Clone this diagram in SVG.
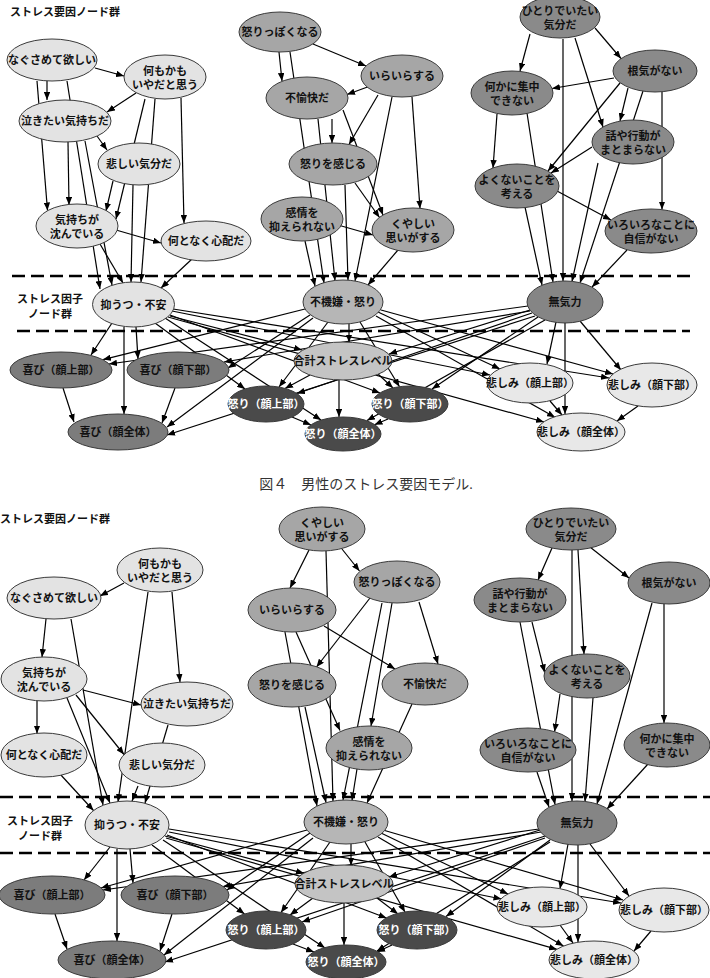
<svg xmlns="http://www.w3.org/2000/svg" width="710" height="978" viewBox="0 0 710 978">
<defs>
<marker id="ar" viewBox="0 0 10 8" refX="10" refY="4" markerWidth="8" markerHeight="6.4" markerUnits="userSpaceOnUse" orient="auto"><path d="M0,0L10,4L0,8z" fill="#000"/></marker>
<style>
.e{stroke:#3a3a3a;stroke-width:1}
.c1{fill:#e3e3e3}
.c2{fill:#a6a6a6}
.c3{fill:#8a8a8a}
.cf2{fill:#b6b6b6}
.cf3{fill:#858585}
.cj{fill:#7c7c7c}
.ct{fill:#c4c4c4}
.ca{fill:#4a4a4a}
.cs{fill:#e8e8e8}
text{font-family:"Liberation Sans","Noto Sans CJK JP",sans-serif;font-size:11px;font-weight:bold;text-anchor:middle;fill:#111}
text.w{fill:#fff}
text.lbl{text-anchor:start}
text.cap{font-family:"Liberation Serif","Noto Sans CJK JP",serif;font-weight:normal;font-size:14px;fill:#333}
#connectors line{stroke:#000;stroke-width:1.2;marker-end:url(#ar)}
.dash{stroke:#000;stroke-width:2.4;stroke-dasharray:13 6}
</style>
</defs>
<rect width="710" height="978" fill="#fff"/>

<g id="labels">
<text class="lbl" x="10" y="16">ストレス要因ノード群</text>
<text x="50" y="303">ストレス因子</text>
<text x="50" y="318">ノード群</text>
<text class="cap" x="366" y="489">図４　男性のストレス要因モデル.</text>
<text class="lbl" x="0" y="523">ストレス要因ノード群</text>
<text x="40" y="825">ストレス因子</text>
<text x="40" y="840">ノード群</text>
</g>

<g id="separators">
<line class="dash" x1="12" y1="276" x2="693" y2="276"/>
<line class="dash" x1="17" y1="331" x2="690" y2="331"/>
<line class="dash" x1="0" y1="797" x2="710" y2="797"/>
<line class="dash" x1="0" y1="853" x2="710" y2="853"/>
</g>

<g id="connectors">
<!-- top: left group -->
<line x1="95" y1="68" x2="124" y2="76"/>
<line x1="47" y1="81" x2="47" y2="100"/>
<line x1="37" y1="81" x2="47.5" y2="210.5"/>
<line x1="67" y1="81" x2="100" y2="289"/>
<line x1="136" y1="93" x2="107" y2="112"/>
<line x1="181" y1="98" x2="184" y2="223"/>
<line x1="145" y1="99" x2="116" y2="219"/>
<line x1="155" y1="99" x2="141" y2="282"/>
<line x1="97" y1="136" x2="107" y2="150"/>
<line x1="68" y1="142" x2="69" y2="205"/>
<line x1="85" y1="141" x2="112" y2="285"/>
<line x1="113" y1="181" x2="106" y2="211"/>
<line x1="133" y1="185" x2="131" y2="282"/>
<line x1="116" y1="230" x2="161" y2="243"/>
<line x1="100" y1="244" x2="123" y2="283"/>
<line x1="192" y1="259" x2="161" y2="288"/>
<!-- top: middle group -->
<line x1="313" y1="44" x2="366" y2="66"/>
<line x1="279" y1="52" x2="282" y2="81"/>
<line x1="290" y1="52" x2="324" y2="283"/>
<line x1="373" y1="85" x2="347" y2="94.5"/>
<line x1="378" y1="95" x2="349" y2="144.5"/>
<line x1="412" y1="97" x2="420" y2="208.5"/>
<line x1="392" y1="97" x2="355" y2="281"/>
<line x1="332" y1="119" x2="332" y2="143"/>
<line x1="343" y1="110" x2="383" y2="215"/>
<line x1="318" y1="119" x2="335" y2="280.5"/>
<line x1="355" y1="183" x2="379.5" y2="217.5"/>
<line x1="345" y1="185" x2="348" y2="280"/>
<line x1="338" y1="225" x2="373" y2="235"/>
<line x1="305" y1="241" x2="315" y2="286"/>
<line x1="398" y1="250" x2="368" y2="285"/>
<!-- top: right group -->
<line x1="530" y1="34" x2="520" y2="71"/>
<line x1="595" y1="28" x2="621" y2="58.5"/>
<line x1="575" y1="38" x2="603" y2="127"/>
<line x1="563" y1="39" x2="563" y2="281"/>
<line x1="614" y1="78" x2="552" y2="88.5"/>
<line x1="620" y1="83" x2="548" y2="171"/>
<line x1="628" y1="88" x2="620" y2="121"/>
<line x1="662" y1="92" x2="662" y2="209.5"/>
<line x1="643" y1="91" x2="580" y2="283"/>
<line x1="592" y1="147" x2="551" y2="173"/>
<line x1="598" y1="163" x2="572" y2="281.5"/>
<line x1="497" y1="114" x2="493" y2="168"/>
<line x1="527" y1="113" x2="553" y2="282"/>
<line x1="557" y1="191" x2="611" y2="220"/>
<line x1="525" y1="207" x2="542" y2="285"/>
<line x1="627" y1="250" x2="592" y2="287"/>
<!-- top: factors to outputs -->
<line x1="112" y1="323" x2="91" y2="355"/>
<line x1="136" y1="327" x2="138" y2="359"/>
<line x1="124" y1="327" x2="124" y2="414"/>
<line x1="170" y1="316" x2="302" y2="350"/>
<line x1="155" y1="323" x2="245" y2="389"/>
<line x1="170" y1="315" x2="380" y2="393"/>
<line x1="165" y1="318" x2="321" y2="420"/>
<line x1="172" y1="311" x2="490" y2="375"/>
<line x1="173" y1="309" x2="609" y2="378"/>
<line x1="168" y1="317" x2="544" y2="422"/>
<line x1="305" y1="309" x2="103" y2="359.6"/>
<line x1="310" y1="315" x2="228" y2="368"/>
<line x1="313" y1="318" x2="167" y2="427"/>
<line x1="349" y1="324" x2="349" y2="342.5"/>
<line x1="328" y1="322" x2="279" y2="387"/>
<line x1="360" y1="322" x2="399.5" y2="386.8"/>
<line x1="378" y1="312" x2="500" y2="369"/>
<line x1="381" y1="310" x2="613" y2="374"/>
<line x1="376" y1="316" x2="555" y2="417.3"/>
<line x1="528" y1="306" x2="109" y2="364"/>
<line x1="530" y1="311" x2="224" y2="362"/>
<line x1="535" y1="316" x2="167" y2="435"/>
<line x1="530" y1="310" x2="389" y2="354"/>
<line x1="532" y1="313" x2="297" y2="393.5"/>
<line x1="538" y1="317" x2="432" y2="389"/>
<line x1="545" y1="320" x2="367" y2="420.5"/>
<line x1="556" y1="322" x2="547" y2="364"/>
<line x1="580" y1="321" x2="621" y2="370"/>
<line x1="565" y1="323" x2="565" y2="414"/>
<line x1="63" y1="388" x2="74" y2="422"/>
<line x1="175" y1="388" x2="162" y2="423"/>
<line x1="310" y1="375" x2="285" y2="388.5"/>
<line x1="378" y1="374" x2="393" y2="388"/>
<line x1="339" y1="380" x2="339" y2="417"/>
<line x1="292" y1="417" x2="311" y2="425"/>
<line x1="388" y1="419" x2="374.5" y2="424.7"/>
<line x1="550" y1="401" x2="562" y2="415"/>
<line x1="638" y1="406" x2="617" y2="421"/>
<!-- bottom: left group -->
<line x1="124" y1="583" x2="100" y2="596"/>
<line x1="172" y1="592" x2="180" y2="682"/>
<line x1="148" y1="592" x2="118" y2="802"/>
<line x1="46" y1="619" x2="42" y2="657"/>
<line x1="71" y1="619" x2="103" y2="805"/>
<line x1="37" y1="701" x2="37" y2="733.5"/>
<line x1="83" y1="690" x2="141" y2="705"/>
<line x1="76" y1="695" x2="124" y2="754.5"/>
<line x1="67" y1="698" x2="110" y2="803"/>
<line x1="168" y1="725" x2="145" y2="803"/>
<line x1="138" y1="786" x2="132" y2="801"/>
<line x1="60" y1="774" x2="93.5" y2="810.5"/>
<!-- bottom: middle group -->
<line x1="309" y1="550" x2="290" y2="588"/>
<line x1="342" y1="549" x2="359.5" y2="571"/>
<line x1="326" y1="551" x2="333" y2="801"/>
<line x1="370" y1="598" x2="316.5" y2="667"/>
<line x1="419" y1="602" x2="438" y2="664"/>
<line x1="392" y1="603" x2="371" y2="726"/>
<line x1="382" y1="603" x2="343" y2="800"/>
<line x1="324" y1="626" x2="395" y2="669"/>
<line x1="296" y1="632" x2="340" y2="730.5"/>
<line x1="285" y1="632" x2="317" y2="806"/>
<line x1="305" y1="707" x2="326" y2="802.5"/>
<line x1="412" y1="704" x2="367" y2="803"/>
<line x1="357" y1="769" x2="352" y2="800.5"/>
<!-- bottom: right group -->
<line x1="552" y1="548" x2="538" y2="580"/>
<line x1="590" y1="547" x2="629" y2="578"/>
<line x1="578" y1="550" x2="584" y2="654"/>
<line x1="572" y1="550" x2="572" y2="801"/>
<line x1="532" y1="622" x2="544.6" y2="672.4"/>
<line x1="520" y1="622" x2="555" y2="804.5"/>
<line x1="560" y1="694" x2="554.6" y2="731.7"/>
<line x1="593" y1="698" x2="585" y2="801.5"/>
<line x1="652" y1="603" x2="597" y2="804"/>
<line x1="664" y1="604" x2="664" y2="723"/>
<line x1="648" y1="764" x2="607" y2="809"/>
<line x1="537" y1="772" x2="549" y2="807"/>
<!-- bottom: factors to outputs -->
<line x1="110" y1="847" x2="84" y2="880"/>
<line x1="130" y1="849" x2="133" y2="883"/>
<line x1="117" y1="849" x2="117" y2="941"/>
<line x1="165" y1="836" x2="304" y2="873.3"/>
<line x1="152" y1="845" x2="244.5" y2="914"/>
<line x1="167" y1="835" x2="386.5" y2="918"/>
<line x1="163" y1="840" x2="325" y2="948"/>
<line x1="169" y1="832" x2="501.5" y2="899"/>
<line x1="169" y1="829" x2="621" y2="903"/>
<line x1="166" y1="838" x2="557" y2="949.4"/>
<line x1="307" y1="830" x2="101" y2="888"/>
<line x1="310" y1="833" x2="227" y2="890"/>
<line x1="313" y1="838" x2="164" y2="955"/>
<line x1="351" y1="844" x2="351" y2="865.5"/>
<line x1="330" y1="842" x2="281" y2="912.5"/>
<line x1="365" y1="842" x2="405" y2="912"/>
<line x1="381" y1="833" x2="508" y2="894"/>
<line x1="383" y1="830" x2="623" y2="900"/>
<line x1="378" y1="837" x2="563.5" y2="946"/>
<line x1="539" y1="829" x2="103" y2="890"/>
<line x1="541" y1="832" x2="223" y2="886.5"/>
<line x1="545" y1="836" x2="165" y2="962"/>
<line x1="540" y1="830" x2="389" y2="877"/>
<line x1="545" y1="838" x2="302" y2="922"/>
<line x1="550" y1="840" x2="446" y2="916.5"/>
<line x1="550" y1="842" x2="377" y2="951"/>
<line x1="568" y1="844" x2="560" y2="888.7"/>
<line x1="590" y1="844" x2="629" y2="896"/>
<line x1="578" y1="845" x2="578" y2="942"/>
<line x1="55" y1="914" x2="67" y2="949"/>
<line x1="172" y1="914" x2="160" y2="951"/>
<line x1="313" y1="898" x2="290" y2="915"/>
<line x1="377" y1="898" x2="398" y2="914"/>
<line x1="344" y1="903" x2="344" y2="945"/>
<line x1="293" y1="944" x2="314" y2="952"/>
<line x1="392" y1="945" x2="377" y2="952"/>
<line x1="560" y1="925" x2="573" y2="943"/>
<line x1="651" y1="931" x2="634" y2="951"/>
</g>

<!-- ===== top diagram nodes ===== -->
<g id="t-nagusamete"><ellipse class="e c1" cx="52" cy="60" rx="45" ry="21"/><text x="52" y="64">なぐさめて欲しい</text></g>
<g id="t-nanimokamo"><ellipse class="e c1" cx="165" cy="77" rx="41" ry="22"/><text x="165" y="75">何もかも</text><text x="165" y="89">いやだと思う</text></g>
<g id="t-nakitai"><ellipse class="e c1" cx="65" cy="121" rx="46" ry="21"/><text x="65" y="125">泣きたい気持ちだ</text></g>
<g id="t-kanashii"><ellipse class="e c1" cx="139" cy="164" rx="41" ry="21"/><text x="139" y="168">悲しい気分だ</text></g>
<g id="t-kimochi"><ellipse class="e c1" cx="77" cy="226" rx="41" ry="22"/><text x="77" y="224">気持ちが</text><text x="77" y="238">沈んでいる</text></g>
<g id="t-shinpai"><ellipse class="e c1" cx="206" cy="241" rx="45" ry="20"/><text x="206" y="245">何となく心配だ</text></g>
<g id="t-okorippoku"><ellipse class="e c2" cx="280" cy="32" rx="41" ry="20"/><text x="280" y="36">怒りっぽくなる</text></g>
<g id="t-iraira"><ellipse class="e c2" cx="402" cy="76" rx="41" ry="21"/><text x="402" y="80">いらいらする</text></g>
<g id="t-fuyukai"><ellipse class="e c2" cx="307" cy="98" rx="41" ry="21"/><text x="307" y="102">不愉快だ</text></g>
<g id="t-ikari"><ellipse class="e c2" cx="333" cy="164" rx="44" ry="21"/><text x="333" y="168">怒りを感じる</text></g>
<g id="t-kanjo"><ellipse class="e c2" cx="302" cy="219" rx="41" ry="22"/><text x="302" y="217">感情を</text><text x="302" y="231">抑えられない</text></g>
<g id="t-kuyashii"><ellipse class="e c2" cx="413" cy="230" rx="41" ry="22"/><text x="413" y="228">くやしい</text><text x="413" y="242">思いがする</text></g>
<g id="t-hitori"><ellipse class="e c3" cx="560" cy="17" rx="40" ry="21"/><text x="560" y="15">ひとりでいたい</text><text x="560" y="29">気分だ</text></g>
<g id="t-konki"><ellipse class="e c3" cx="655" cy="71" rx="42" ry="21"/><text x="655" y="75">根気がない</text></g>
<g id="t-shuchu"><ellipse class="e c3" cx="512" cy="93" rx="41" ry="22"/><text x="512" y="91">何かに集中</text><text x="512" y="105">できない</text></g>
<g id="t-hanashi"><ellipse class="e c3" cx="633" cy="142" rx="41" ry="22"/><text x="633" y="140">話や行動が</text><text x="633" y="154">まとまらない</text></g>
<g id="t-yokunai"><ellipse class="e c3" cx="517" cy="186" rx="42" ry="22"/><text x="517" y="184">よくないことを</text><text x="517" y="198">考える</text></g>
<g id="t-iroiro"><ellipse class="e c3" cx="651" cy="231" rx="46" ry="22"/><text x="651" y="229">いろいろなことに</text><text x="651" y="243">自信がない</text></g>

<g id="t-yokuutsu"><ellipse class="e c1" cx="133.5" cy="304.5" rx="41" ry="22.5"/><text x="133.5" y="308.5">抑うつ・不安</text></g>
<g id="t-fukigen"><ellipse class="e cf2" cx="343" cy="302" rx="40" ry="22"/><text x="343" y="306">不機嫌・怒り</text></g>
<g id="t-mukiryoku"><ellipse class="e cf3" cx="565" cy="302" rx="38" ry="21"/><text x="565" y="306">無気力</text></g>

<g id="t-yorokobi-u"><ellipse class="e cj" cx="61" cy="370" rx="51" ry="18"/><text x="61" y="374">喜び（顔上部）</text></g>
<g id="t-yorokobi-l"><ellipse class="e cj" cx="178" cy="370" rx="51" ry="18"/><text x="178" y="374">喜び（顔下部）</text></g>
<g id="t-yorokobi-a"><ellipse class="e cj" cx="118" cy="432" rx="50" ry="18"/><text x="118" y="436">喜び（顔全体）</text></g>
<g id="t-total"><ellipse class="e ct" cx="343" cy="361" rx="49" ry="19"/><text x="343" y="365">合計ストレスレベル</text></g>
<g id="t-ikari-u"><ellipse class="e ca" cx="266" cy="404" rx="38" ry="18"/><text class="w" x="266" y="408">怒り（顔上部）</text></g>
<g id="t-ikari-l"><ellipse class="e ca" cx="410" cy="404" rx="38" ry="18"/><text class="w" x="410" y="408">怒り（顔下部）</text></g>
<g id="t-ikari-a"><ellipse class="e ca" cx="343" cy="434" rx="38" ry="17"/><text class="w" x="343" y="438">怒り（顔全体）</text></g>
<g id="t-kanashimi-u"><ellipse class="e cs" cx="530" cy="383" rx="43" ry="20"/><text x="530" y="387">悲しみ（顔上部）</text></g>
<g id="t-kanashimi-l"><ellipse class="e cs" cx="652" cy="385" rx="45" ry="22"/><text x="652" y="389">悲しみ（顔下部）</text></g>
<g id="t-kanashimi-a"><ellipse class="e cs" cx="581" cy="432" rx="44" ry="19"/><text x="581" y="436">悲しみ（顔全体）</text></g>

<!-- ===== bottom diagram nodes ===== -->
<g id="b-nanimokamo"><ellipse class="e c1" cx="160" cy="570" rx="43" ry="22"/><text x="160" y="568">何もかも</text><text x="160" y="582">いやだと思う</text></g>
<g id="b-nagusamete"><ellipse class="e c1" cx="54" cy="598" rx="47" ry="21"/><text x="54" y="602">なぐさめて欲しい</text></g>
<g id="b-kimochi"><ellipse class="e c1" cx="44" cy="679" rx="43" ry="22"/><text x="44" y="677">気持ちが</text><text x="44" y="691">沈んでいる</text></g>
<g id="b-nakitai"><ellipse class="e c1" cx="187" cy="704" rx="46" ry="22"/><text x="187" y="708">泣きたい気持ちだ</text></g>
<g id="b-shinpai"><ellipse class="e c1" cx="44" cy="755" rx="43" ry="22"/><text x="44" y="759">何となく心配だ</text></g>
<g id="b-kanashii"><ellipse class="e c1" cx="162" cy="765" rx="43" ry="22"/><text x="162" y="769">悲しい気分だ</text></g>
<g id="b-kuyashii"><ellipse class="e c2" cx="322" cy="529" rx="43" ry="22"/><text x="322" y="527">くやしい</text><text x="322" y="541">思いがする</text></g>
<g id="b-okorippoku"><ellipse class="e c2" cx="397" cy="582" rx="43" ry="21"/><text x="397" y="586">怒りっぽくなる</text></g>
<g id="b-iraira"><ellipse class="e c2" cx="292" cy="610" rx="44" ry="22"/><text x="292" y="614">いらいらする</text></g>
<g id="b-ikari"><ellipse class="e c2" cx="292" cy="685" rx="44" ry="22"/><text x="292" y="689">怒りを感じる</text></g>
<g id="b-fuyukai"><ellipse class="e c2" cx="425" cy="684" rx="43" ry="21"/><text x="425" y="688">不愉快だ</text></g>
<g id="b-kanjo"><ellipse class="e c2" cx="369" cy="748" rx="43" ry="22"/><text x="369" y="746">感情を</text><text x="369" y="760">抑えられない</text></g>
<g id="b-hitori"><ellipse class="e c3" cx="571" cy="529" rx="45" ry="21"/><text x="571" y="527">ひとりでいたい</text><text x="571" y="541">気分だ</text></g>
<g id="b-konki"><ellipse class="e c3" cx="669" cy="583" rx="41" ry="21"/><text x="669" y="587">根気がない</text></g>
<g id="b-hanashi"><ellipse class="e c3" cx="520" cy="600" rx="46" ry="22"/><text x="520" y="598">話や行動が</text><text x="520" y="612">まとまらない</text></g>
<g id="b-yokunai"><ellipse class="e c3" cx="587" cy="676" rx="43" ry="22"/><text x="587" y="674">よくないことを</text><text x="587" y="688">考える</text></g>
<g id="b-iroiro"><ellipse class="e c3" cx="528" cy="750" rx="48" ry="22"/><text x="528" y="748">いろいろなことに</text><text x="528" y="762">自信がない</text></g>
<g id="b-shuchu"><ellipse class="e c3" cx="667" cy="745" rx="43" ry="22"/><text x="667" y="743">何かに集中</text><text x="667" y="757">できない</text></g>

<g id="b-yokuutsu"><ellipse class="e c1" cx="127" cy="825" rx="42" ry="24"/><text x="127" y="829">抑うつ・不安</text></g>
<g id="b-fukigen"><ellipse class="e cf2" cx="346" cy="822" rx="42" ry="22"/><text x="346" y="826">不機嫌・怒り</text></g>
<g id="b-mukiryoku"><ellipse class="e cf3" cx="577" cy="823" rx="40" ry="22"/><text x="577" y="827">無気力</text></g>

<g id="b-yorokobi-u"><ellipse class="e cj" cx="52" cy="895" rx="53" ry="19"/><text x="52" y="899">喜び（顔上部）</text></g>
<g id="b-yorokobi-l"><ellipse class="e cj" cx="175" cy="895" rx="54" ry="19"/><text x="175" y="899">喜び（顔下部）</text></g>
<g id="b-yorokobi-a"><ellipse class="e cj" cx="112" cy="960" rx="54" ry="19"/><text x="112" y="964">喜び（顔全体）</text></g>
<g id="b-total"><ellipse class="e ct" cx="344" cy="884" rx="49" ry="19"/><text x="344" y="888">合計ストレスレベル</text></g>
<g id="b-ikari-u"><ellipse class="e ca" cx="266" cy="930" rx="40" ry="19"/><text class="w" x="266" y="934">怒り（顔上部）</text></g>
<g id="b-ikari-l"><ellipse class="e ca" cx="417" cy="930" rx="40" ry="19"/><text class="w" x="417" y="934">怒り（顔下部）</text></g>
<g id="b-ikari-a"><ellipse class="e ca" cx="346" cy="962" rx="40" ry="17"/><text class="w" x="346" y="966">怒り（顔全体）</text></g>
<g id="b-kanashimi-u"><ellipse class="e cs" cx="542" cy="907" rx="45" ry="20"/><text x="542" y="911">悲しみ（顔上部）</text></g>
<g id="b-kanashimi-l"><ellipse class="e cs" cx="664" cy="910" rx="45" ry="22"/><text x="664" y="914">悲しみ（顔下部）</text></g>
<g id="b-kanashimi-a"><ellipse class="e cs" cx="594" cy="960" rx="45" ry="19"/><text x="594" y="964">悲しみ（顔全体）</text></g>
</svg>
